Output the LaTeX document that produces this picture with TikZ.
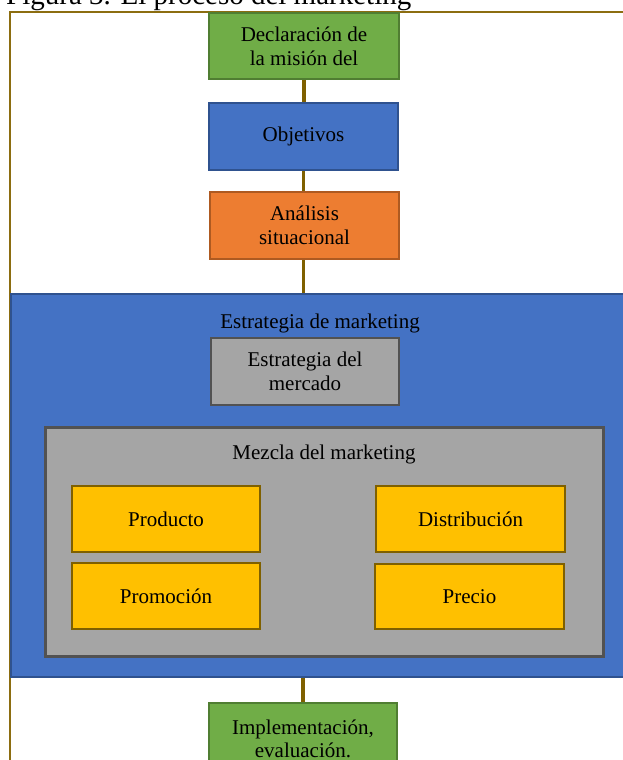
\documentclass[tikz,border=0pt]{standalone}
\usepackage{fontspec}
\setmainfont{Liberation Serif}
\definecolor{gfill}{HTML}{70AD47}
\definecolor{gdraw}{HTML}{507E32}
\definecolor{bfill}{HTML}{4472C4}
\definecolor{bdraw}{HTML}{2F528F}
\definecolor{ofill}{HTML}{ED7D31}
\definecolor{odraw}{HTML}{AE5A21}
\definecolor{grfill}{HTML}{A5A5A5}
\definecolor{grdraw}{HTML}{525252}
\definecolor{yfill}{HTML}{FFC000}
\definecolor{ydraw}{HTML}{7F6000}
\definecolor{lnk}{HTML}{7F6000}
\definecolor{frame}{HTML}{8C6D10}
\begin{document}
\begin{tikzpicture}[x=1pt,y=-1pt,
  box/.style={draw, line width=2.6pt, align=center, inner sep=0pt,
    font=\fontsize{21}{24}\selectfont},
  greenbox/.style={box, fill=gfill, draw=gdraw},
  bluebox/.style={box, fill=bfill, draw=bdraw},
  orangebox/.style={box, fill=ofill, draw=odraw},
  graybox/.style={box, fill=grfill, draw=grdraw, line width=3pt},
  yellowbox/.style={box, fill=yfill, draw=ydraw, minimum width=188pt, minimum height=66pt},
  conn/.style={draw=lnk, line width=3.5pt},
  plain/.style={font=\fontsize{21}{24}\selectfont, inner sep=0pt, anchor=base}
]
\useasboundingbox (0,0) rectangle (623,760);
% title and frame
\node[anchor=base west, inner sep=0pt, font=\fontsize{29}{32}\selectfont] (title) at (6,5) {Figura 3. El proceso del marketing};
\draw[draw=frame, line width=2pt] (9.5,820) -- (9.5,12) -- (700,12);
% top chain
\node[greenbox, minimum width=190pt, minimum height=66pt] (decl) at (304,46) {Declaración de\\la misión del};
\node[bluebox, minimum width=189pt, minimum height=67pt] (obj) at (303.5,136.5) {Objetivos};
\node[orangebox, minimum width=189pt, minimum height=67pt] (anal) at (304.5,225.5) {Análisis\\situacional};
% marketing strategy
\node[bluebox, minimum width=629pt, minimum height=383pt] (estr) at (325.5,485.5) {};
\node[plain] (estrlab) at (320,328) {Estrategia de marketing};
\node[graybox, line width=2.6pt, minimum width=188pt, minimum height=67pt] (merc) at (305,371.5) {Estrategia del\\mercado};
\node[graybox, minimum width=558pt, minimum height=229pt] (mezcla) at (324,541.5) {};
\node[plain] (mezlab) at (324,459) {Mezcla del marketing};
\node[yellowbox] (prod) at (166,519) {Producto};
\node[yellowbox] (prom) at (166,596) {Promoción};
\node[yellowbox, minimum width=189pt] (dist) at (470.5,519) {Distribución};
\node[yellowbox, minimum width=189pt, minimum height=65pt] (prec) at (469.5,596.5) {Precio};
% bottom box
\node[greenbox, minimum width=188pt, minimum height=110pt] (impl) at (303,758) {};
\node[plain] (impl1) at (303,734) {Implementación,};
\node[plain] (impl2) at (303,757) {evaluación.};
% connectors
\path[conn] (decl.south) -- (decl.south |- obj.north);
\path[conn] (obj.south) -- (obj.south |- anal.north);
\path[conn] (anal.south -| obj.south) -- (obj.south |- estr.north);
\path[conn] (impl.north |- estr.south) -- (impl.north);
\end{tikzpicture}
\end{document}
